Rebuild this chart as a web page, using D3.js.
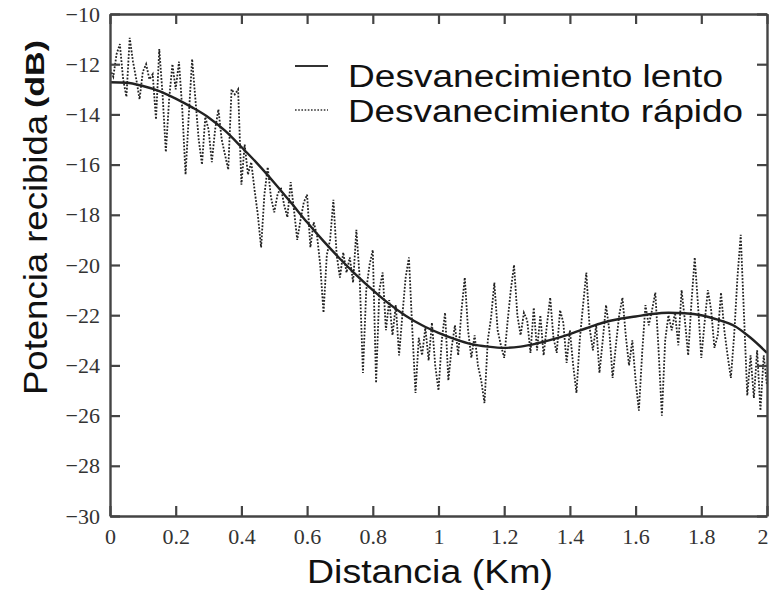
<!DOCTYPE html>
<html><head><meta charset="utf-8">
<script src="https://cdn.jsdelivr.net/npm/d3@7"></script>
<style>body{margin:0;background:#fff}</style>
</head><body>
<svg id="c" width="770" height="590"></svg>
<script>
const xTicks = [0,0.2,0.4,0.6,0.8,1,1.2,1.4,1.6,1.8,2];
const xTickLabels = ["0","0.2","0.4","0.6","0.8","1","1.2","1.4","1.6","1.8","2"];
const yTicks = [-10,-12,-14,-16,-18,-20,-22,-24,-26,-28,-30];
const yTickLabels = ["\u221210","\u221212","\u221214","\u221216","\u221218","\u221220","\u221222","\u221224","\u221226","\u221228","\u221230"];

const slowDist = [0,0.05,0.1,0.15,0.2,0.25,0.3,0.35,0.4,0.45,0.5,0.55,0.6,0.65,0.7,0.75,0.8,0.85,0.9,0.95,1,1.05,1.1,1.15,1.2,1.25,1.3,1.35,1.4,1.45,1.5,1.55,1.6,1.65,1.7,1.75,1.8,1.85,1.9,1.95,2];
const slowVals = [-12.72,-12.74,-12.87,-13.07,-13.37,-13.72,-14.12,-14.65,-15.3,-15.98,-16.72,-17.5,-18.3,-19.05,-19.75,-20.4,-21.0,-21.55,-22.02,-22.4,-22.7,-22.95,-23.15,-23.25,-23.3,-23.25,-23.12,-22.95,-22.75,-22.52,-22.3,-22.15,-22.05,-21.95,-21.9,-21.92,-22.0,-22.18,-22.42,-22.9,-23.5];

const fastDist = d3.range(0, 201).map(i => i / 100);
const fastVals = [
-12.2,-12.5,-11.6,-11.2,-12.6,-13.3,-10.95,-11.9,-12.6,-13.4,
-12.3,-12.0,-12.6,-12.4,-14.2,-11.4,-13.2,-15.5,-13.4,-12.0,
-13.0,-11.9,-13.8,-16.4,-14.0,-11.8,-13.4,-15.0,-16.0,-14.1,
-14.6,-15.9,-14.6,-13.8,-15.0,-15.6,-16.2,-13.0,-13.2,-13.0,
-16.8,-15.2,-16.4,-15.9,-17.0,-18.0,-19.3,-17.2,-16.1,-17.3,
-17.9,-17.2,-16.9,-17.6,-18.1,-16.7,-17.8,-19.0,-18.2,-17.5,
-17.2,-19.3,-18.3,-18.8,-20.0,-21.9,-19.6,-19.0,-17.4,-19.6,
-20.5,-19.5,-20.3,-19.7,-20.7,-18.6,-20.5,-24.3,-21.0,-20.0,
-19.4,-24.7,-21.0,-20.3,-22.6,-21.4,-22.8,-21.6,-23.6,-22.0,
-20.5,-19.7,-22.5,-25.1,-22.9,-23.6,-22.5,-23.8,-22.3,-24.0,
-25.0,-23.0,-21.9,-24.6,-23.3,-22.4,-23.6,-21.8,-20.5,-22.6,
-23.7,-22.8,-24.0,-24.6,-25.5,-23.0,-22.1,-20.7,-22.6,-23.2,
-23.7,-22.3,-21.0,-20.0,-22.0,-22.8,-21.9,-22.2,-23.5,-21.7,
-23.4,-22.0,-23.6,-22.4,-21.3,-22.9,-23.5,-21.8,-22.3,-23.9,
-22.6,-24.0,-25.1,-23.0,-21.6,-20.3,-22.5,-23.4,-22.4,-24.3,
-23.0,-21.6,-22.6,-24.5,-23.2,-22.0,-21.3,-22.8,-24.0,-23.0,
-24.6,-25.8,-23.5,-21.6,-22.4,-21.8,-21.1,-23.4,-26.0,-23.0,
-22.0,-22.6,-21.9,-23.2,-21.0,-22.2,-23.6,-21.5,-19.7,-21.6,
-23.7,-22.3,-21.0,-21.8,-23.3,-22.8,-21.1,-22.6,-23.6,-24.5,
-22.8,-20.5,-18.8,-22.0,-25.2,-23.6,-25.3,-23.4,-25.8,-23.6,
-24.8];

const legendLabels = ["Desvanecimiento lento","Desvanecimiento r\u00e1pido"];
const xTitle = "Distancia (Km)";
const yTitleMain = "Potencia recibida";
const yTitleUnit = "(dB)";

const svg = d3.select("#c");
const L = 110, R = 767, T = 14, B = 516;
const x = d3.scaleLinear().domain([0,2]).range([L,R]);
const y = d3.scaleLinear().domain([-30,-10]).range([B,T]);
const axisColor = "#444";
const tickFont = "'Liberation Serif','Times New Roman',serif";
const sansFont = "'Liberation Sans',Arial,sans-serif";

svg.append("clipPath").attr("id","clip").append("rect").attr("x",L).attr("y",T).attr("width",R-L).attr("height",B-T);
const g = svg.append("g").attr("clip-path","url(#clip)");
const fastLine = d3.line().x((d,i)=>x(fastDist[i])).y(d=>y(d));
g.append("path").datum(fastVals).attr("d",fastLine).attr("fill","none")
  .attr("stroke","#222").attr("stroke-width",1.8).attr("stroke-dasharray","1.8,1.6");
const slowLine = d3.line().curve(d3.curveMonotoneX).x((d,i)=>x(slowDist[i])).y(d=>y(d));
g.append("path").datum(slowVals).attr("d",slowLine).attr("fill","none")
  .attr("stroke","#222").attr("stroke-width",2.4);

const tk = 10;
const axBottom = svg.append("g").attr("transform",`translate(0,${B})`)
  .call(d3.axisBottom(x).tickValues(xTicks).tickSizeInner(-tk).tickSizeOuter(0).tickPadding(12).tickFormat((d,i)=>xTickLabels[i]));
const axTop = svg.append("g").attr("transform",`translate(0,${T})`)
  .call(d3.axisTop(x).tickValues(xTicks).tickSizeInner(-tk).tickSizeOuter(0).tickFormat(""));
const axLeft = svg.append("g").attr("transform",`translate(${L},0)`)
  .call(d3.axisLeft(y).tickValues(yTicks).tickSizeInner(-tk).tickSizeOuter(0).tickPadding(10).tickFormat((d,i)=>yTickLabels[i]));
const axRight = svg.append("g").attr("transform",`translate(${R},0)`)
  .call(d3.axisRight(y).tickValues(yTicks).tickSizeInner(-tk).tickSizeOuter(0).tickFormat(""));
[axBottom,axTop,axLeft,axRight].forEach(a=>{
  a.select(".domain").attr("stroke",axisColor).attr("stroke-width",2.4);
  a.selectAll(".tick line").attr("stroke",axisColor).attr("stroke-width",2.2);
  a.selectAll("text").attr("font-family",tickFont).attr("font-size",22).attr("fill","#333");
});
axBottom.selectAll(".tick text").filter(d => d === 2).attr("text-anchor","end").attr("dx","0.05em");

svg.append("text").attr("x",307).attr("y",583)
  .attr("font-family",sansFont).attr("font-size",34).attr("fill","#111")
  .attr("textLength",246).attr("lengthAdjust","spacingAndGlyphs").text(xTitle);
svg.append("text").attr("transform","translate(47,395) rotate(-90)")
  .attr("font-family",sansFont).attr("font-size",34).attr("fill","#111")
  .attr("textLength",280).attr("lengthAdjust","spacingAndGlyphs").text(yTitleMain);
svg.append("text").attr("transform","translate(44,108) rotate(-90)")
  .attr("font-family",sansFont).attr("font-size",26).attr("font-weight","bold").attr("fill","#111")
  .attr("textLength",68).attr("lengthAdjust","spacingAndGlyphs").text(yTitleUnit);

const lg = svg.append("g");
const rows = [{ly:66, ty:87, dash:null, w:2.2, len:375},{ly:110, ty:122, dash:"1.6,1.6", w:1.6, len:395}];
rows.forEach((r,i)=>{
  lg.append("line").attr("x1",295).attr("x2",328).attr("y1",r.ly).attr("y2",r.ly)
    .attr("stroke","#333").attr("stroke-width",r.w).attr("stroke-dasharray",r.dash);
  lg.append("text").attr("x",348).attr("y",r.ty).attr("font-family",sansFont)
    .attr("font-size",31).attr("fill","#111")
    .attr("textLength",r.len).attr("lengthAdjust","spacingAndGlyphs").text(legendLabels[i]);
});
</script>
</body></html>
